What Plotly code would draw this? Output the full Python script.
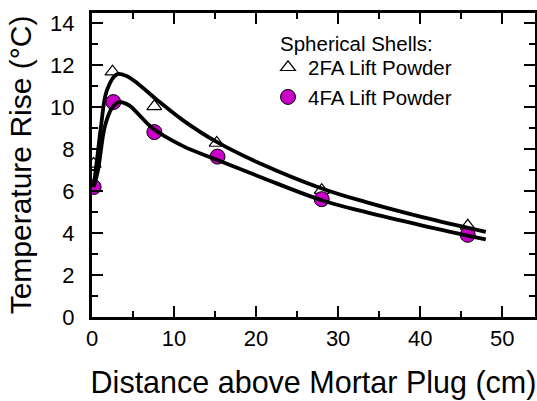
import plotly.graph_objects as go

# Measured data points
x_2fa = [0.2, 2.5, 7.6, 15.2, 28.0, 45.8]
y_2fa = [7.3, 11.7, 10.05, 8.3, 6.05, 4.35]

x_4fa = [0.2, 2.6, 7.6, 15.3, 28.0, 45.8]
y_4fa = [6.2, 10.25, 8.82, 7.65, 5.62, 3.92]

# Fitted curves
xc_2fa = [0.2, 0.7, 1.1, 1.8, 3.0, 4.2, 5.6, 8.0, 11.1, 15.2, 20.5, 28.0, 33.3, 40.4, 48.0]
yc_2fa = [6.2, 7.8, 9.1, 10.8, 11.57, 11.5, 11.13, 10.33, 9.38, 8.35, 7.32, 6.13, 5.49, 4.75, 4.06]

xc_4fa = [0.2, 0.73, 1.55, 2.4, 3.3, 4.5, 5.6, 7.4, 11.1, 15.2, 20.5, 28.0, 33.3, 40.4, 48.0]
yc_4fa = [6.2, 7.0, 9.06, 9.95, 10.25, 10.1, 9.7, 9.0, 8.15, 7.5, 6.68, 5.57, 5.01, 4.35, 3.7]

x_ticks = [0, 10, 20, 30, 40, 50]
y_ticks = [0, 2, 4, 6, 8, 10, 12, 14]

FONT = "Arial, Liberation Sans, sans-serif"
MAGENTA = "#C800C8"

fig = go.Figure()
fig.add_trace(go.Scatter(
    x=x_2fa, y=y_2fa, mode="markers", name="2FA Lift Powder",
    marker=dict(symbol="triangle-up", size=13, color="white",
                line=dict(color="black", width=1.2)),
    legendgroup="a"))
fig.add_trace(go.Scatter(
    x=x_4fa, y=y_4fa, mode="markers", name="4FA Lift Powder",
    marker=dict(symbol="circle", size=15, color=MAGENTA,
                line=dict(color="black", width=1)),
    legendgroup="b"))
for xc, yc in ((xc_2fa, yc_2fa), (xc_4fa, yc_4fa)):
    fig.add_trace(go.Scatter(
        x=xc, y=yc, mode="lines", showlegend=False,
        line=dict(color="black", width=3.8, shape="spline", smoothing=1.0)))

axis_common = dict(
    showline=True, linecolor="black", linewidth=3, mirror="allticks",
    ticks="inside", ticklen=11, tickwidth=2, tickcolor="black",
    showgrid=False, zeroline=False, automargin=False,
    tickfont=dict(family=FONT, size=22, color="black"),
)

fig.update_xaxes(
    range=[0, 54], tickvals=x_ticks, ticktext=[str(v) for v in x_ticks],
    minor=dict(dtick=5, tick0=0, ticks="inside", ticklen=6, tickwidth=2,
               tickcolor="black", showgrid=False),
    title=dict(text="Distance above Mortar Plug (cm)",
               font=dict(family=FONT, size=30.5, color="black"), standoff=22),
    ticklabelstandoff=0,
    **axis_common)
fig.update_yaxes(
    range=[0, 14.5], tickvals=y_ticks, ticktext=[str(v) for v in y_ticks],
    minor=dict(dtick=1, tick0=0, ticks="inside", ticklen=6, tickwidth=2,
               tickcolor="black", showgrid=False),
    title=dict(text="Temperature Rise (°C)",
               font=dict(family=FONT, size=30, color="black"), standoff=10),
    ticklabelstandoff=10,
    **axis_common)

fig.add_annotation(
    text="Spherical Shells:", xref="paper", yref="paper",
    x=(278 - 92) / 443, y=(317 - 43) / 304.5, xanchor="left", yanchor="middle",
    showarrow=False, font=dict(family=FONT, size=20.5, color="black"))

fig.update_layout(
    width=537, height=401,
    margin=dict(l=92, r=2, t=12.5, b=84),
    paper_bgcolor="white", plot_bgcolor="white",
    showlegend=True,
    legend=dict(x=(268 - 92) / 443, y=(317 - 47) / 304.5,
                xanchor="left", yanchor="top",
                bgcolor="rgba(0,0,0,0)", borderwidth=0,
                font=dict(family=FONT, size=20.5, color="black"),
                tracegroupgap=0, itemsizing="trace"),
)

fig.write_html(
    "out.html",
    config={"displayModeBar": False},
    post_script="document.body.style.margin='0';document.body.style.overflow='hidden';")
